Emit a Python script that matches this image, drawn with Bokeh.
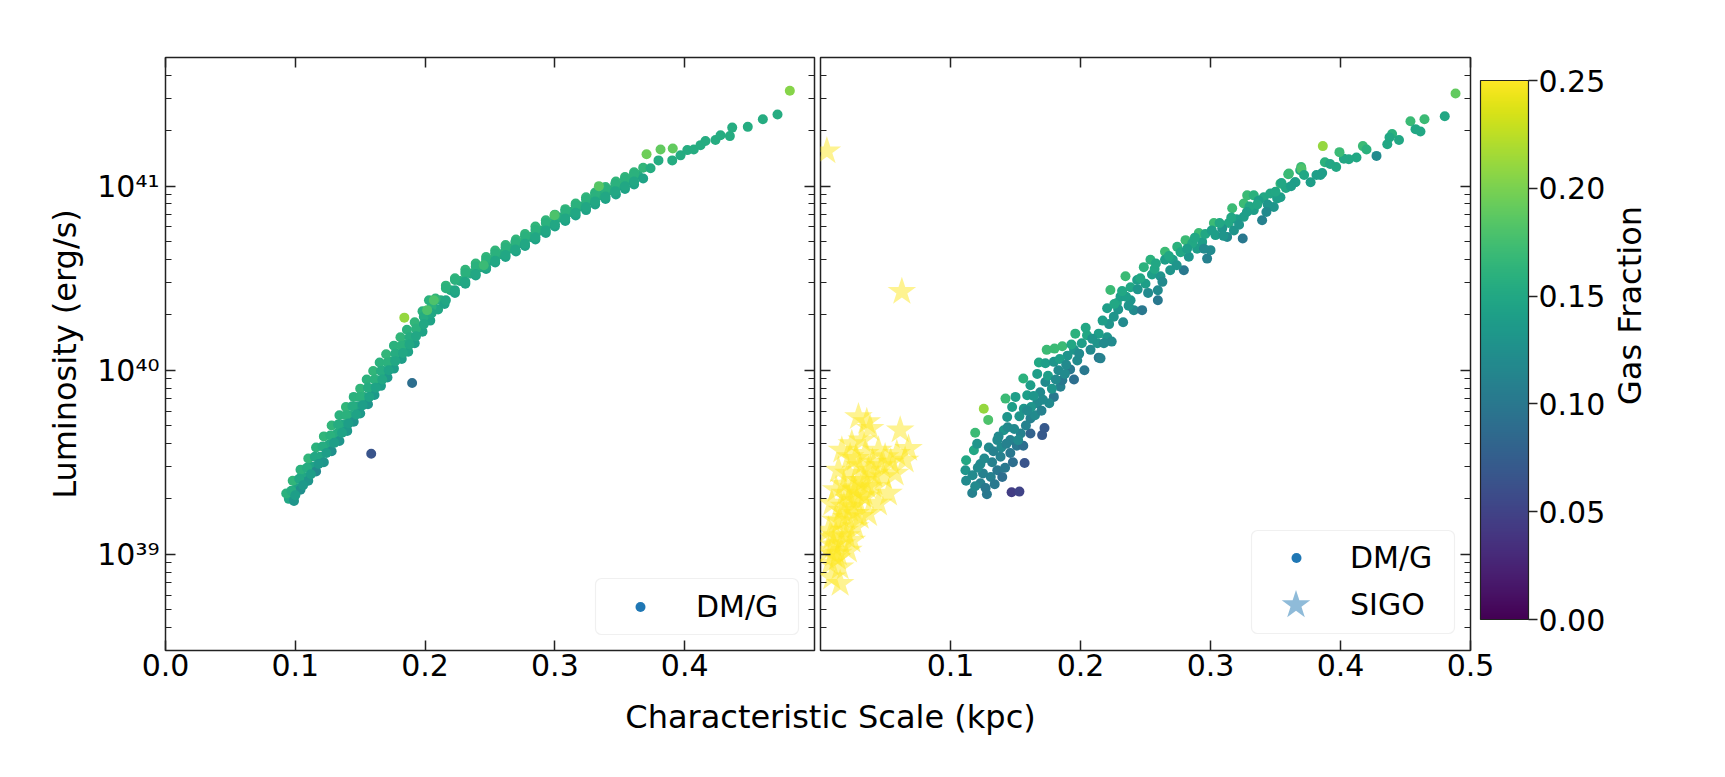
from bokeh.plotting import figure
from bokeh.layouts import column, row
from bokeh.models import (ColumnDataSource, Range1d, FixedTicker, LogAxis, LinearAxis,
                          CustomJSTickFormatter, PrintfTickFormatter, Legend, LegendItem,
                          ColorBar, LinearColorMapper, Label, BoxAnnotation, Spacer)
from bokeh.palettes import Viridis256
from bokeh.embed import file_html
from bokeh.resources import INLINE

NAN = float("nan")

# ---------------- data ----------------
# Left panel: DM/G (characteristic scale kpc, luminosity erg/s, gas fraction)
left_scale = [
    0.095, 0.101, 0.107, 0.113, 0.119, 0.126, 0.132, 0.137, 0.142, 0.148, 0.153, 0.158, 0.163, 0.168, 0.173, 0.178, 0.184, 0.189, 0.194, 0.200, 0.206,
    0.093, 0.098, 0.104, 0.110, 0.116, 0.122, 0.128, 0.134, 0.139, 0.145, 0.150, 0.155, 0.160, 0.165, 0.170, 0.176, 0.181, 0.186, 0.192, 0.198, 0.203,
    0.099, 0.104, 0.110, 0.116, 0.122, 0.128, 0.134, 0.140, 0.145, 0.150, 0.156, 0.161, 0.166, 0.171, 0.176, 0.182, 0.187, 0.192, 0.198, 0.204, 0.210,
    0.097, 0.103, 0.109, 0.115, 0.121, 0.127, 0.133, 0.139, 0.144, 0.150, 0.156, 0.161, 0.166, 0.171, 0.177, 0.182, 0.188, 0.193, 0.199, 0.205,
    0.100, 0.106, 0.112, 0.118, 0.124, 0.130, 0.136, 0.141, 0.147, 0.152, 0.157, 0.162, 0.167, 0.172, 0.177, 0.183, 0.188, 0.193, 0.199, 0.205,
    0.212, 0.2196, 0.227, 0.235, 0.243, 0.2504, 0.258, 0.2658, 0.273, 0.2812, 0.289, 0.2966, 0.304, 0.312, 0.320, 0.3274, 0.335, 0.3428, 0.350, 0.3582, 0.364,
    0.208, 0.216, 0.223, 0.231, 0.239, 0.247, 0.254, 0.262, 0.270, 0.277, 0.285, 0.293, 0.300, 0.308, 0.316, 0.324, 0.331, 0.339, 0.347, 0.354, 0.361, 0.368,
    0.215, 0.223, 0.231, 0.239, 0.247, 0.254, 0.262, 0.270, 0.277, 0.285, 0.293, 0.300, 0.308, 0.316, 0.324, 0.331, 0.339, 0.347, 0.354, 0.361, 0.368,
    0.216, 0.223, 0.231, 0.239, 0.247, 0.254, 0.262, 0.2695, 0.277, 0.285, 0.293, 0.300, 0.308, 0.316, 0.324, 0.331, 0.339, 0.3465, 0.354, 0.361,
    0.216, 0.223, 0.231, 0.239, 0.247, 0.254, 0.262, 0.2695, 0.277, 0.285, 0.293, 0.300, 0.308, 0.316, 0.324, 0.331, 0.339, 0.3465, 0.354, 0.361,
    0.3737, 0.3798, 0.3904, 0.3968, 0.402, 0.407, 0.4122, 0.416, 0.4237, 0.4276, 0.4348, 0.4366, 0.4486, 0.4602, 0.4715, 0.481,
    0.3706, 0.3814, 0.3908, 0.3339, 0.2997, 0.2452, 0.2067, 0.184, 0.2016,
    0.190, 0.1585,
]
left_lum = [
    2.00e39, 2.29e39, 2.63e39, 2.99e39, 3.39e39, 3.94e39, 4.52e39, 5.07e39, 5.69e39, 6.38e39, 7.16e39, 7.94e39, 8.81e39, 9.89e39, 1.11e40, 1.23e40, 1.38e40, 1.51e40, 1.66e40, 2.00e40, 2.24e40,
    2.14e39, 2.51e39, 2.88e39, 3.31e39, 3.80e39, 4.37e39, 5.01e39, 5.69e39, 6.31e39, 7.16e39, 7.94e39, 8.91e39, 9.89e39, 1.10e40, 1.22e40, 1.36e40, 1.51e40, 1.66e40, 1.82e40, 2.09e40, 2.40e40,
    1.95e39, 2.24e39, 2.51e39, 2.82e39, 3.16e39, 3.63e39, 4.12e39, 4.68e39, 5.25e39, 5.82e39, 6.53e39, 7.33e39, 8.22e39, 9.12e39, 1.02e40, 1.15e40, 1.26e40, 1.40e40, 1.62e40, 1.86e40, 2.14e40,
    2.21e39, 2.57e39, 2.95e39, 3.39e39, 3.85e39, 4.42e39, 5.07e39, 5.69e39, 6.38e39, 7.16e39, 8.04e39, 8.91e39, 9.89e39, 1.10e40, 1.23e40, 1.36e40, 1.51e40, 1.68e40, 1.95e40, 2.21e40,
    2.09e39, 2.37e39, 2.72e39, 3.09e39, 3.55e39, 4.03e39, 4.57e39, 5.13e39, 5.75e39, 6.46e39, 7.16e39, 8.04e39, 8.91e39, 1.00e40, 1.12e40, 1.24e40, 1.38e40, 1.53e40, 1.78e40, 2.04e40,
    2.40e40, 2.72e40, 3.05e40, 3.35e40, 3.63e40, 3.96e40, 4.27e40, 4.58e40, 4.90e40, 5.30e40, 5.75e40, 6.27e40, 6.76e40, 7.24e40, 7.76e40, 8.39e40, 8.91e40, 9.51e40, 1.01e41, 1.08e41, 1.15e41,
    2.45e40, 2.88e40, 3.16e40, 3.51e40, 3.80e40, 4.12e40, 4.47e40, 4.79e40, 5.13e40, 5.50e40, 6.03e40, 6.53e40, 7.00e40, 7.50e40, 8.04e40, 8.71e40, 9.23e40, 9.89e40, 1.06e41, 1.12e41, 1.19e41, 1.26e41,
    2.29e40, 2.63e40, 2.95e40, 3.27e40, 3.55e40, 3.85e40, 4.12e40, 4.42e40, 4.73e40, 5.13e40, 5.56e40, 6.03e40, 6.46e40, 6.92e40, 7.41e40, 7.94e40, 8.51e40, 9.02e40, 9.66e40, 1.02e41, 1.10e41,
    2.79e40, 3.09e40, 3.37e40, 3.66e40, 3.98e40, 4.31e40, 4.63e40, 4.97e40, 5.33e40, 5.78e40, 6.31e40, 6.81e40, 7.33e40, 7.85e40, 8.45e40, 9.06e40, 9.64e40, 1.03e41, 1.09e41, 1.16e41,
    2.40e40, 2.72e40, 3.02e40, 3.33e40, 3.62e40, 3.93e40, 4.23e40, 4.53e40, 4.86e40, 5.27e40, 5.74e40, 6.21e40, 6.68e40, 7.16e40, 7.71e40, 8.26e40, 8.79e40, 9.38e40, 9.98e40, 1.06e41,
    1.25e41, 1.38e41, 1.38e41, 1.47e41, 1.57e41, 1.58e41, 1.67e41, 1.76e41, 1.78e41, 1.89e41, 1.87e41, 2.08e41, 2.10e41, 2.31e41, 2.45e41, 3.30e41,
    1.49e41, 1.58e41, 1.60e41, 1.00e41, 6.95e40, 3.72e40, 2.40e40, 1.93e40, 2.12e40,
    8.53e39, 3.52e39,
]
left_gas = [
    0.150, 0.145, 0.150, 0.145, 0.150, 0.150, 0.155, 0.150, 0.155, 0.150, 0.155, 0.150, 0.155, 0.150, 0.155, 0.150, 0.155, 0.150, 0.155, 0.155, 0.155,
    0.160, 0.165, 0.160, 0.165, 0.160, 0.165, 0.165, 0.160, 0.165, 0.160, 0.165, 0.160, 0.165, 0.160, 0.165, 0.160, 0.165, 0.160, 0.165, 0.160, 0.160,
    0.130, 0.125, 0.130, 0.120, 0.130, 0.125, 0.130, 0.135, 0.130, 0.135, 0.130, 0.135, 0.140, 0.135, 0.140, 0.140, 0.145, 0.140, 0.145, 0.145, 0.150,
    0.155, 0.150, 0.155, 0.150, 0.155, 0.160, 0.155, 0.160, 0.155, 0.160, 0.155, 0.160, 0.155, 0.160, 0.155, 0.160, 0.155, 0.160, 0.155, 0.160,
    0.140, 0.135, 0.140, 0.135, 0.140, 0.140, 0.145, 0.140, 0.145, 0.140, 0.145, 0.145, 0.150, 0.145, 0.150, 0.150, 0.150, 0.150, 0.150, 0.150,
    0.155, 0.155, 0.155, 0.155, 0.155, 0.155, 0.155, 0.155, 0.155, 0.155, 0.155, 0.155, 0.155, 0.155, 0.155, 0.155, 0.155, 0.155, 0.155, 0.155, 0.155,
    0.165, 0.165, 0.165, 0.165, 0.165, 0.165, 0.165, 0.165, 0.165, 0.165, 0.165, 0.165, 0.165, 0.165, 0.165, 0.165, 0.165, 0.165, 0.165, 0.165, 0.165, 0.165,
    0.145, 0.145, 0.145, 0.145, 0.145, 0.145, 0.145, 0.145, 0.145, 0.145, 0.145, 0.145, 0.145, 0.145, 0.145, 0.145, 0.145, 0.145, 0.145, 0.145, 0.145,
    0.160, 0.160, 0.160, 0.160, 0.160, 0.160, 0.160, 0.160, 0.160, 0.160, 0.160, 0.160, 0.160, 0.160, 0.160, 0.160, 0.160, 0.160, 0.160, 0.160,
    0.150, 0.150, 0.150, 0.150, 0.150, 0.150, 0.150, 0.150, 0.150, 0.150, 0.150, 0.150, 0.150, 0.150, 0.150, 0.150, 0.150, 0.150, 0.150, 0.150,
    0.155, 0.155, 0.155, 0.155, 0.155, 0.155, 0.155, 0.155, 0.155, 0.155, 0.155, 0.155, 0.155, 0.155, 0.155, 0.205,
    0.195, 0.190, 0.190, 0.185, 0.180, 0.170, 0.180, 0.210, 0.180,
    0.090, 0.065,
]

# Right panel: DM/G
right_scale = [
    0.1167, 0.128, 0.147, 0.153, 0.157, 0.112, 0.1115, 0.112, 0.118, 0.119, 0.1256, 0.129, 0.1205, 0.123, 0.123, 0.131, 0.1295, 0.136, 0.1398, 0.1385,
    0.136, 0.141, 0.146, 0.146, 0.1436, 0.1474, 0.151, 0.154, 0.156, 0.1615, 0.1705, 0.1723, 0.1615, 0.165, 0.1667, 0.1564, 0.1423, 0.15, 0.159, 0.169,
    0.1795, 0.156, 0.1615, 0.1667, 0.173, 0.1846, 0.168, 0.173, 0.1795, 0.183, 0.186, 0.195, 0.192, 0.203, 0.174, 0.18, 0.186, 0.19, 0.1975, 0.195,
    0.201, 0.2077, 0.214, 0.213, 0.2205, 0.224, 0.196, 0.205, 0.214,
    0.117, 0.125, 0.132, 0.127, 0.119, 0.134, 0.142, 0.148, 0.152, 0.158, 0.144, 0.139, 0.162, 0.170, 0.176, 0.178, 0.188,
    0.2154, 0.218, 0.2205, 0.223, 0.228, 0.2328, 0.2346, 0.2385, 0.241, 0.2474, 0.2487, 0.2538, 0.255, 0.2595, 0.2595, 0.2615, 0.265, 0.269, 0.2744, 0.2795,
    0.2808, 0.2833, 0.2897, 0.291, 0.2974, 0.2936, 0.3, 0.3026, 0.3038, 0.3128, 0.314, 0.3167, 0.318, 0.3248, 0.3256, 0.3256, 0.3282, 0.3333, 0.3333, 0.3397,
    0.341, 0.346, 0.3487, 0.3513, 0.3538, 0.3603, 0.3654, 0.369, 0.377, 0.3846, 0.309, 0.2436, 0.2308, 0.2256, 0.2385, 0.265,
    0.222, 0.229, 0.235, 0.244, 0.250, 0.257, 0.271, 0.277, 0.286, 0.296, 0.307, 0.320, 0.330, 0.337, 0.344, 0.358,
    0.4885, 0.4802, 0.4646, 0.4538, 0.4577, 0.4615, 0.4397, 0.4377, 0.436, 0.4277, 0.4172, 0.4123, 0.4064, 0.4026, 0.3992, 0.3864, 0.388, 0.3967, 0.3859,
    0.3815, 0.3697, 0.370, 0.3649, 0.3598, 0.3546, 0.3538,
    0.121, 0.126, 0.133, 0.137, 0.143, 0.149, 0.153, 0.159, 0.164, 0.171, 0.175, 0.181, 0.184, 0.189, 0.193, 0.199, 0.204, 0.209, 0.217, 0.226,
    0.232, 0.237, 0.246, 0.252, 0.258, 0.263, 0.268, 0.274, 0.282, 0.288, 0.295, 0.301, 0.310, 0.316, 0.322, 0.328, 0.336, 0.343, 0.350, 0.362,
    0.372, 0.392, 0.420, 0.445,
]
right_lum = [
    2.15e39, 2.12e39, 2.17e39, 2.19e39, 3.13e39, 2.51e39, 2.86e39, 3.24e39, 3.67e39, 4.57e39, 6.17e39, 5.37e39, 3.98e39, 3.09e39, 2.43e39, 2.63e39, 3.80e39, 2.86e39, 2.63e39, 3.39e39,
    4.17e39, 4.72e39, 3.55e39, 4.17e39, 5.57e39, 6.31e39, 3.89e39, 4.53e39, 3.89e39, 4.53e39, 4.44e39, 4.85e39, 5.46e39, 5.69e39, 6.61e39, 6.17e39, 7.01e39, 7.16e39, 7.31e39, 7.59e39,
    7.16e39, 9.02e39, 8.28e39, 9.55e39, 8.63e39, 8.13e39, 1.10e40, 1.09e40, 1.11e40, 1.00e40, 8.83e39, 8.91e39, 1.01e40, 1.00e40, 1.29e40, 1.31e40, 1.35e40, 1.20e40, 1.13e40, 1.29e40,
    1.40e40, 1.29e40, 1.17e40, 1.40e40, 1.51e40, 1.43e40, 1.58e40, 1.55e40, 1.58e40,
    2.69e39, 2.75e39, 3.16e39, 2.29e39, 2.34e39, 2.40e39, 2.95e39, 3.16e39, 4.17e39, 5.01e39, 4.90e39, 3.80e39, 6.31e39, 6.03e39, 6.61e39, 7.94e39, 9.55e39,
    1.16e40, 1.40e40, 2.17e40, 2.73e40, 2.32e40, 1.82e40, 3.24e40, 2.82e40, 2.12e40, 2.12e40, 3.63e40, 3.98e40, 3.31e40, 2.72e40, 2.40e40, 3.24e40, 4.40e40, 3.49e40, 4.68e40, 3.49e40,
    5.09e40, 4.13e40, 4.57e40, 5.57e40, 4.04e40, 4.98e40, 4.49e40, 6.31e40, 5.42e40, 5.30e40, 6.31e40, 7.59e40, 5.75e40, 5.20e40, 6.81e40, 8.05e40, 8.91e40, 8.91e40, 7.41e40, 6.53e40,
    8.71e40, 9.12e40, 7.71e40, 8.57e40, 1.03e41, 1.17e41, 1.05e41, 1.22e41, 1.05e41, 1.15e41, 5.89e40, 3.09e40, 2.51e40, 1.95e40, 2.40e40, 3.98e40,
    1.78e40, 2.14e40, 2.51e40, 2.75e40, 2.95e40, 3.55e40, 3.98e40, 4.37e40, 4.90e40, 5.50e40, 6.31e40, 6.61e40, 7.76e40, 8.32e40, 7.94e40, 9.77e40,
    3.19e41, 2.40e41, 2.31e41, 2.25e41, 2.04e41, 1.98e41, 1.92e41, 1.84e41, 1.69e41, 1.46e41, 1.65e41, 1.43e41, 1.40e41, 1.41e41, 1.53e41, 1.65e41, 1.35e41, 1.27e41, 1.18e41,
    1.15e41, 1.27e41, 1.24e41, 1.05e41, 1.16e41, 1.04e41, 8.71e40,
    2.95e39, 3.31e39, 3.63e39, 4.37e39, 3.98e39, 4.79e39, 5.62e39, 6.03e39, 7.24e39, 6.92e39, 9.33e39, 8.91e39, 1.15e40, 1.07e40, 1.38e40, 1.23e40, 1.70e40, 1.48e40, 1.86e40, 2.29e40,
    2.69e40, 2.24e40, 3.16e40, 2.63e40, 3.80e40, 3.02e40, 4.17e40, 3.72e40, 4.57e40, 5.25e40, 4.57e40, 5.75e40, 5.37e40, 6.76e40, 6.17e40, 7.24e40, 7.94e40, 7.24e40, 9.33e40, 1.00e41,
    1.15e41, 1.32e41, 1.58e41, 1.78e41,
]
right_gas = [
    0.11, 0.10, 0.045, 0.05, 0.065, 0.12, 0.13, 0.15, 0.15, 0.17, 0.21, 0.18, 0.13, 0.12, 0.11, 0.11, 0.12, 0.10, 0.09, 0.11,
    0.12, 0.13, 0.10, 0.11, 0.13, 0.14, 0.10, 0.11, 0.09, 0.08, 0.07, 0.07, 0.11, 0.12, 0.12, 0.13, 0.17, 0.14, 0.14, 0.12,
    0.10, 0.16, 0.14, 0.14, 0.12, 0.11, 0.15, 0.14, 0.13, 0.12, 0.10, 0.09, 0.10, 0.10, 0.17, 0.17, 0.17, 0.13, 0.12, 0.13,
    0.14, 0.12, 0.10, 0.13, 0.13, 0.12, 0.16, 0.15, 0.14,
    0.12, 0.11, 0.11, 0.10, 0.12, 0.10, 0.10, 0.09, 0.12, 0.11, 0.12, 0.12, 0.13, 0.11, 0.12, 0.13, 0.12,
    0.11, 0.12, 0.14, 0.17, 0.15, 0.12, 0.17, 0.15, 0.12, 0.10, 0.16, 0.16, 0.14, 0.12, 0.10, 0.13, 0.17, 0.13, 0.16, 0.10,
    0.17, 0.13, 0.14, 0.17, 0.11, 0.14, 0.12, 0.17, 0.14, 0.12, 0.15, 0.17, 0.13, 0.10, 0.14, 0.17, 0.17, 0.16, 0.14, 0.11,
    0.15, 0.15, 0.13, 0.14, 0.17, 0.17, 0.15, 0.15, 0.14, 0.14, 0.13, 0.14, 0.14, 0.13, 0.13, 0.14,
    0.13, 0.13, 0.14, 0.13, 0.14, 0.15, 0.14, 0.15, 0.15, 0.15, 0.15, 0.14, 0.15, 0.14, 0.13, 0.15,
    0.19, 0.15, 0.17, 0.17, 0.15, 0.15, 0.16, 0.15, 0.15, 0.12, 0.17, 0.15, 0.15, 0.15, 0.17, 0.21, 0.16, 0.15, 0.14,
    0.14, 0.17, 0.18, 0.14, 0.17, 0.15, 0.14,
    0.12, 0.12, 0.11, 0.12, 0.11, 0.12, 0.13, 0.12, 0.13, 0.12, 0.14, 0.12, 0.14, 0.12, 0.15, 0.12, 0.15, 0.13, 0.14, 0.15,
    0.15, 0.13, 0.15, 0.12, 0.15, 0.12, 0.15, 0.13, 0.14, 0.15, 0.12, 0.14, 0.13, 0.15, 0.13, 0.14, 0.15, 0.12, 0.15, 0.14,
    0.15, 0.15, 0.16, 0.15,
]

# Right panel: SIGO
sigo_scale = [
    0.0049, 0.0626, 0.0292, 0.0356, 0.0382, 0.0613, 0.0677, 0.0164, 0.0241, 0.0318, 0.0228, 0.0344, 0.0497, 0.0587, 0.0651,
    0.0574, 0.0485, 0.0523, 0.0446, 0.0138, 0.0215, 0.0292, 0.0369, 0.019, 0.0267, 0.0344, 0.0087, 0.0164, 0.0241, 0.0305,
    0.0369, 0.0113, 0.019, 0.0267, 0.0087, 0.0164, 0.0241, 0.0062, 0.0138, 0.0215, 0.0074, 0.0151, 0.0087, 0.0151, 0.0062,
    0.0421, 0.0446, 0.0400, 0.0300, 0.0120, 0.0200, 0.0280, 0.0100, 0.0330, 0.0180,
    0.012, 0.015, 0.022, 0.025, 0.018, 0.010, 0.013, 0.020, 0.027, 0.032, 0.036, 0.041, 0.027, 0.047, 0.054,
]
sigo_lum = [
    1.55e41, 2.67e40, 5.57e39, 5.24e39, 4.82e39, 4.72e39, 3.75e39, 3.67e39, 3.98e39, 4.17e39, 3.38e39, 3.52e39, 3.38e39, 3.52e39, 3.24e39,
    2.75e39, 2.63e39, 2.14e39, 1.89e39, 2.86e39, 2.75e39, 2.51e39, 2.86e39, 2.14e39, 2.23e39, 2.05e39, 1.89e39, 1.73e39, 1.81e39, 1.60e39,
    1.66e39, 1.53e39, 1.35e39, 1.41e39, 1.24e39, 1.14e39, 1.19e39, 1.05e39, 1.01e39, 1.05e39, 8.91e38, 8.51e38, 7.50e38, 6.92e38, 1.35e39,
    2.32e39, 3.67e39, 3.16e39, 3.02e39, 2.24e39, 1.58e39, 1.95e39, 1.12e39, 2.51e39, 2.40e39,
    1.26e39, 1.51e39, 2.00e39, 2.29e39, 1.82e39, 1.00e39, 9.55e38, 1.26e39, 1.66e39, 2.09e39, 2.34e39, 2.69e39, 3.31e39, 3.02e39, 3.16e39,
]

y_major = [1e39, 1e40, 1e41]
y_minor = [3e38, 4e38, 5e38, 6e38, 7e38, 8e38, 9e38,
           2e39, 3e39, 4e39, 5e39, 6e39, 7e39, 8e39, 9e39,
           2e40, 3e40, 4e40, 5e40, 6e40, 7e40, 8e40, 9e40,
           2e41, 3e41, 4e41, 5e41]
x_ticks_left = [0.0, 0.1, 0.2, 0.3, 0.4]
x_ticks_right = [0.1, 0.2, 0.3, 0.4, 0.5]
cbar_ticks = [0.0, 0.05, 0.10, 0.15, 0.20, 0.25]

# ---------------- styling ----------------
FONT = "DejaVu Sans"
TICK = "30px"
LABEL = "32px"
INK = "#222222"

mapper = LinearColorMapper(palette=Viridis256, low=0.0, high=0.25)
yr = Range1d(3.0e38, 5.0e41)

SUP = r"""
var s = {"0":"\u2070","1":"\u00b9","2":"\u00b2","3":"\u00b3","4":"\u2074","5":"\u2075",
         "6":"\u2076","7":"\u2077","8":"\u2078","9":"\u2079","-":"\u207b"};
var e = String(Math.round(Math.log10(tick)));
var o = "";
for (var i = 0; i < e.length; i++) { o += s[e[i]]; }
return "10" + o;
"""


def tick_style(ax, minor=True):
    ax.axis_line_color = None
    ax.major_tick_in = 10
    ax.major_tick_out = 0
    ax.major_tick_line_color = INK
    ax.major_tick_line_width = 1.5
    if minor:
        ax.minor_tick_in = 6
        ax.minor_tick_out = 0
        ax.minor_tick_line_color = INK
        ax.minor_tick_line_width = 1.2
    else:
        ax.minor_tick_line_color = None


def label_style(ax):
    ax.major_label_text_font = FONT
    ax.major_label_text_font_size = TICK
    ax.major_label_text_color = "black"


def hide_labels(ax):
    ax.formatter = CustomJSTickFormatter(code="return '';")
    ax.major_label_text_font_size = "0px"
    ax.major_label_standoff = 0


def make_panel(width, border_left, border_right, xticks, show_y):
    p = figure(width=width, height=690, x_range=Range1d(0, 0.5), y_range=yr,
               y_axis_type="log", output_backend="svg", toolbar_location=None,
               min_border_left=border_left, min_border_right=border_right,
               min_border_top=57, min_border_bottom=40)
    p.xgrid.visible = False
    p.ygrid.visible = False
    p.outline_line_color = INK
    p.outline_line_width = 1.5
    p.background_fill_color = "white"
    p.border_fill_color = "white"

    xb = p.xaxis[0]
    xb.ticker = FixedTicker(ticks=xticks, minor_ticks=[])
    xb.formatter = PrintfTickFormatter(format="%.1f")
    tick_style(xb, minor=False)
    label_style(xb)
    xb.major_label_standoff = 3

    yl = p.yaxis[0]
    yl.ticker = FixedTicker(ticks=y_major, minor_ticks=y_minor)
    tick_style(yl)
    if show_y:
        yl.formatter = CustomJSTickFormatter(code=SUP)
        label_style(yl)
        yl.major_label_standoff = 6
        yl.axis_label = "Luminosity (erg/s)"
        yl.axis_label_text_font = FONT
        yl.axis_label_text_font_size = LABEL
        yl.axis_label_text_font_style = "normal"
        yl.axis_label_text_color = "black"
        yl.axis_label_standoff = 10
    else:
        hide_labels(yl)

    top = LinearAxis(ticker=FixedTicker(ticks=xticks, minor_ticks=[]))
    tick_style(top, minor=False)
    hide_labels(top)
    p.add_layout(top, "above")

    right = LogAxis(ticker=FixedTicker(ticks=y_major, minor_ticks=y_minor))
    tick_style(right)
    hide_labels(right)
    p.add_layout(right, "right")
    return p


def legend(items, loc, gw, gh, standoff):
    return Legend(items=items, location=loc, padding=0, margin=0, spacing=0,
                  glyph_width=gw, glyph_height=gh, label_standoff=standoff,
                  label_text_font=FONT, label_text_font_size=TICK, label_text_color="black",
                  border_line_color=None, background_fill_alpha=0)


def legend_box(l, r, b, t):
    return BoxAnnotation(left=l, right=r, bottom=b, top=t,
                         left_units="screen", right_units="screen",
                         bottom_units="screen", top_units="screen",
                         fill_color="white", fill_alpha=0.8, line_color="#cccccc",
                         line_width=1.2, border_radius=6)


# ---------------- left panel ----------------
p1 = make_panel(817, 165, 3, x_ticks_left, True)
src_l = ColumnDataSource(dict(x=left_scale, y=left_lum, g=left_gas))
p1.scatter(x="x", y="y", source=src_l, size=10, marker="circle",
           fill_color={"field": "g", "transform": mapper}, line_color=None)
# legend-only handle (no visible data point)
leg_dot1 = p1.scatter(x=[NAN], y=[NAN], size=10, marker="circle", fill_color="#1f77b4", line_color=None)
p1.add_layout(legend_box(430, 633, 16, 72))
p1.add_layout(legend([LegendItem(label="DM/G", renderers=[leg_dot1])], (455, 26), 40, 25, 36))

# ---------------- right panel ----------------
p2 = make_panel(789, 3, 136, x_ticks_right, False)
src_r = ColumnDataSource(dict(x=right_scale, y=right_lum, g=right_gas))
p2.scatter(x="x", y="y", source=src_r, size=10, marker="circle",
           fill_color={"field": "g", "transform": mapper}, line_color=None)
src_s = ColumnDataSource(dict(x=sigo_scale, y=sigo_lum))
p2.scatter(x="x", y="y", source=src_s, size=30, marker="star",
           fill_color=Viridis256[-1], fill_alpha=0.5, line_color=None)

leg_dot2 = p2.scatter(x=[NAN], y=[NAN], size=10, marker="circle", fill_color="#1f77b4", line_color=None)
leg_star = p2.scatter(x=[NAN], y=[NAN], size=30, marker="star", fill_color="#1f77b4",
                      fill_alpha=0.5, line_color=None)
p2.add_layout(legend_box(431, 634, 17, 120))
p2.add_layout(legend([LegendItem(label="DM/G", renderers=[leg_dot2])], (456, 75), 40, 25, 34))
p2.add_layout(legend([LegendItem(label="SIGO", renderers=[leg_star])], (438, 8), 75, 75, 17))

cbar = ColorBar(color_mapper=mapper, location=(660, 31), width=48, height=539,
                padding=0, margin=0,
                ticker=FixedTicker(ticks=cbar_ticks), formatter=PrintfTickFormatter(format="%.2f"),
                major_tick_in=0, major_tick_out=9, major_tick_line_color=INK, major_tick_line_width=1.5,
                minor_tick_line_color=None,
                major_label_text_font=FONT, major_label_text_font_size=TICK, major_label_text_color="black",
                label_standoff=1, bar_line_color=INK, bar_line_width=1.2,
                background_fill_alpha=0, border_line_color=None)
p2.add_layout(cbar)

# ---------------- colour-bar title strip ----------------
p3 = figure(width=119, height=690, x_range=Range1d(0, 1), y_range=Range1d(0, 1),
            x_axis_type=None, y_axis_type=None, output_backend="svg", toolbar_location=None,
            min_border_left=0, min_border_right=0, min_border_top=0, min_border_bottom=0)
p3.outline_line_color = None
p3.xgrid.visible = False
p3.ygrid.visible = False
p3.add_layout(Label(x=23, y=345, x_units="screen", y_units="screen", text="Gas Fraction",
                    angle=90, angle_units="deg", text_align="center", text_baseline="middle",
                    text_font=FONT, text_font_size=LABEL, text_color="black"))

# ---------------- shared x label ----------------
p4 = figure(width=1725, height=53, x_range=Range1d(0, 1), y_range=Range1d(0, 1),
            x_axis_type=None, y_axis_type=None, output_backend="svg", toolbar_location=None,
            min_border_left=0, min_border_right=0, min_border_top=0, min_border_bottom=0)
p4.outline_line_color = None
p4.xgrid.visible = False
p4.ygrid.visible = False
p4.add_layout(Label(x=830, y=26.5, x_units="screen", y_units="screen", text="Characteristic Scale (kpc)",
                    text_align="center", text_baseline="middle",
                    text_font=FONT, text_font_size=LABEL, text_color="black"))

layout = column(row(p1, p2, p3), p4, Spacer(width=1725, height=34))
open("out.html", "w", encoding="utf-8").write(file_html(layout, INLINE))
